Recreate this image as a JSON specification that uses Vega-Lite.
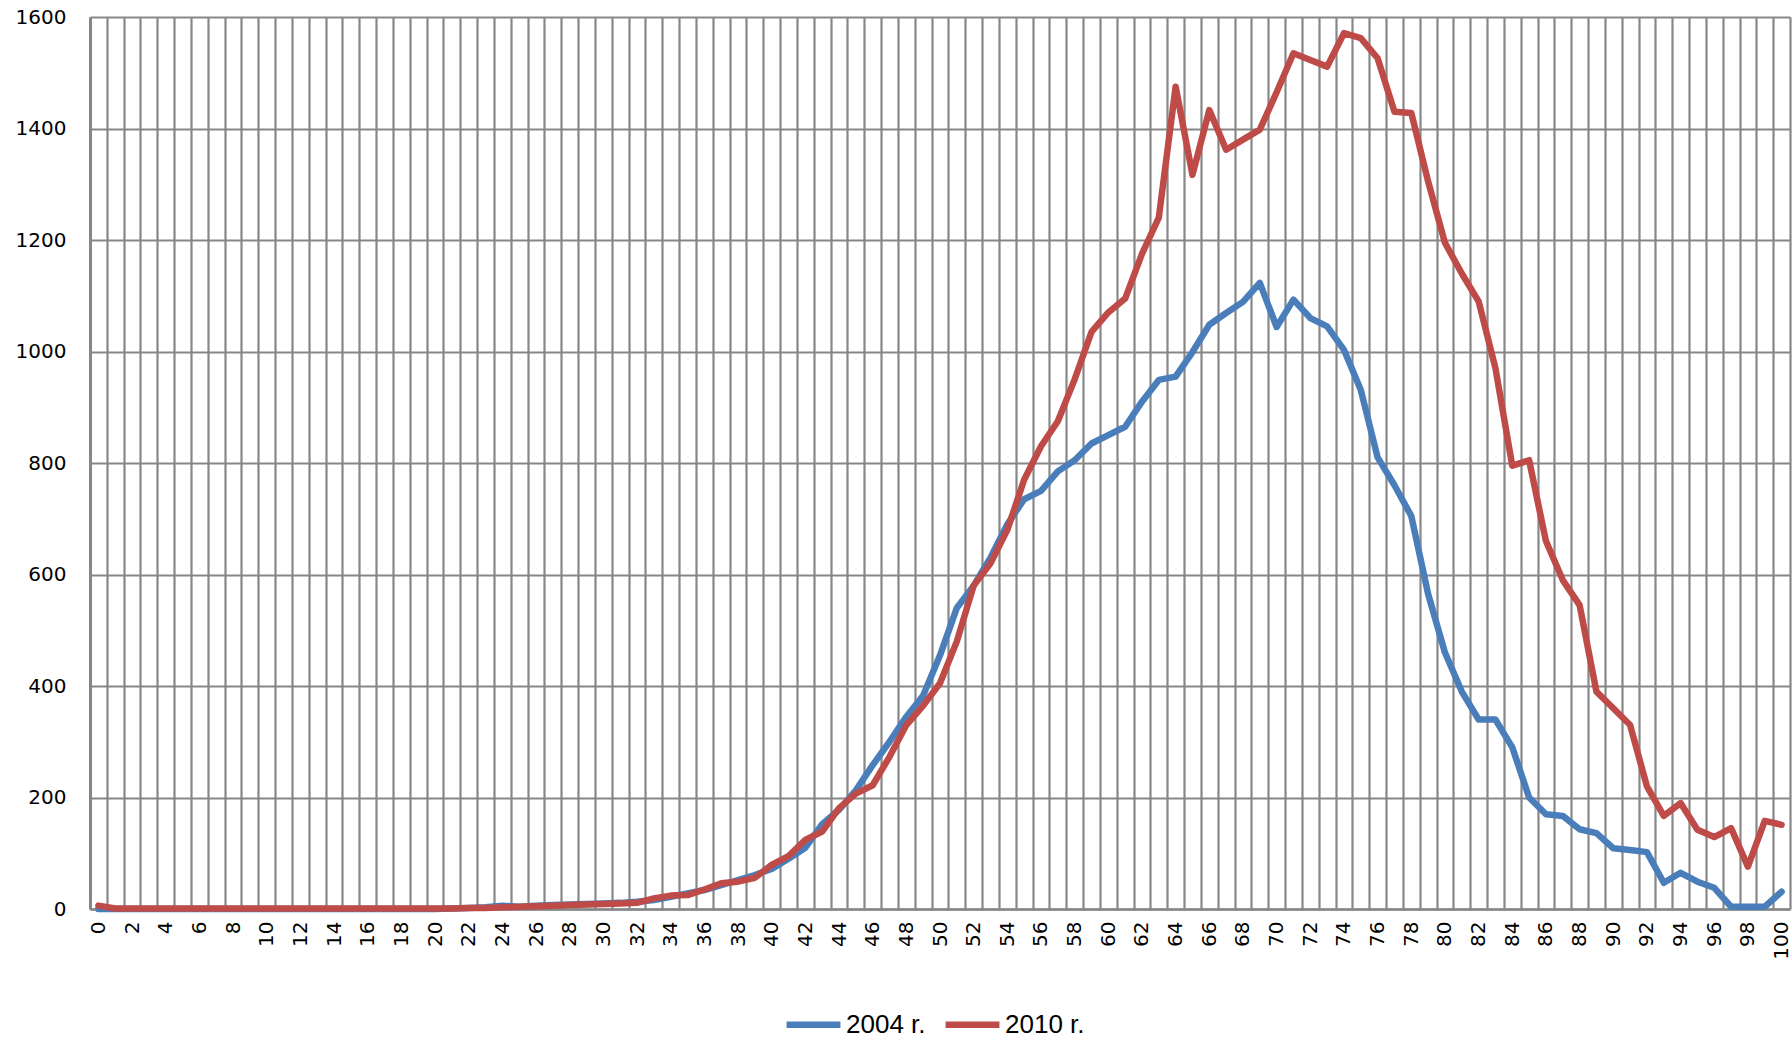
{
  "$schema": "https://vega.github.io/schema/vega-lite/v6.json",
  "width": 1700,
  "height": 892,
  "autosize": {"type": "none"},
  "padding": {"left": 90, "top": 17, "right": 2, "bottom": 131},
  "background": "white",
  "config": {"view": {"stroke": null}},
  "data": {"values": [
{"age":0,"year":"2004 r.","value":0},{"age":1,"year":"2004 r.","value":0},{"age":2,"year":"2004 r.","value":0},{"age":3,"year":"2004 r.","value":0},{"age":4,"year":"2004 r.","value":0},{"age":5,"year":"2004 r.","value":0},{"age":6,"year":"2004 r.","value":0},{"age":7,"year":"2004 r.","value":0},{"age":8,"year":"2004 r.","value":0},{"age":9,"year":"2004 r.","value":0},
{"age":10,"year":"2004 r.","value":0},{"age":11,"year":"2004 r.","value":0},{"age":12,"year":"2004 r.","value":0},{"age":13,"year":"2004 r.","value":0},{"age":14,"year":"2004 r.","value":0},{"age":15,"year":"2004 r.","value":0},{"age":16,"year":"2004 r.","value":0},{"age":17,"year":"2004 r.","value":0},{"age":18,"year":"2004 r.","value":0},{"age":19,"year":"2004 r.","value":0},
{"age":20,"year":"2004 r.","value":0},{"age":21,"year":"2004 r.","value":1},{"age":22,"year":"2004 r.","value":2},{"age":23,"year":"2004 r.","value":3},{"age":24,"year":"2004 r.","value":6},{"age":25,"year":"2004 r.","value":4},{"age":26,"year":"2004 r.","value":6},{"age":27,"year":"2004 r.","value":7},{"age":28,"year":"2004 r.","value":8},{"age":29,"year":"2004 r.","value":9},
{"age":30,"year":"2004 r.","value":10},{"age":31,"year":"2004 r.","value":11},{"age":32,"year":"2004 r.","value":13},{"age":33,"year":"2004 r.","value":16},{"age":34,"year":"2004 r.","value":22},{"age":35,"year":"2004 r.","value":28},{"age":36,"year":"2004 r.","value":34},{"age":37,"year":"2004 r.","value":43},{"age":38,"year":"2004 r.","value":52},{"age":39,"year":"2004 r.","value":61},
{"age":40,"year":"2004 r.","value":72},{"age":41,"year":"2004 r.","value":90},{"age":42,"year":"2004 r.","value":110},{"age":43,"year":"2004 r.","value":152},{"age":44,"year":"2004 r.","value":178},{"age":45,"year":"2004 r.","value":213},{"age":46,"year":"2004 r.","value":258},{"age":47,"year":"2004 r.","value":300},{"age":48,"year":"2004 r.","value":345},{"age":49,"year":"2004 r.","value":383},
{"age":50,"year":"2004 r.","value":455},{"age":51,"year":"2004 r.","value":540},{"age":52,"year":"2004 r.","value":580},{"age":53,"year":"2004 r.","value":630},{"age":54,"year":"2004 r.","value":690},{"age":55,"year":"2004 r.","value":735},{"age":56,"year":"2004 r.","value":750},{"age":57,"year":"2004 r.","value":785},{"age":58,"year":"2004 r.","value":805},{"age":59,"year":"2004 r.","value":835},
{"age":60,"year":"2004 r.","value":850},{"age":61,"year":"2004 r.","value":865},{"age":62,"year":"2004 r.","value":910},{"age":63,"year":"2004 r.","value":949},{"age":64,"year":"2004 r.","value":955},{"age":65,"year":"2004 r.","value":999},{"age":66,"year":"2004 r.","value":1048},{"age":67,"year":"2004 r.","value":1069},{"age":68,"year":"2004 r.","value":1089},{"age":69,"year":"2004 r.","value":1123},
{"age":70,"year":"2004 r.","value":1044},{"age":71,"year":"2004 r.","value":1093},{"age":72,"year":"2004 r.","value":1060},{"age":73,"year":"2004 r.","value":1045},{"age":74,"year":"2004 r.","value":1003},{"age":75,"year":"2004 r.","value":931},{"age":76,"year":"2004 r.","value":810},{"age":77,"year":"2004 r.","value":760},{"age":78,"year":"2004 r.","value":705},{"age":79,"year":"2004 r.","value":565},
{"age":80,"year":"2004 r.","value":460},{"age":81,"year":"2004 r.","value":390},{"age":82,"year":"2004 r.","value":340},{"age":83,"year":"2004 r.","value":340},{"age":84,"year":"2004 r.","value":290},{"age":85,"year":"2004 r.","value":200},{"age":86,"year":"2004 r.","value":170},{"age":87,"year":"2004 r.","value":167},{"age":88,"year":"2004 r.","value":143},{"age":89,"year":"2004 r.","value":136},
{"age":90,"year":"2004 r.","value":109},{"age":91,"year":"2004 r.","value":106},{"age":92,"year":"2004 r.","value":102},{"age":93,"year":"2004 r.","value":47},{"age":94,"year":"2004 r.","value":65},{"age":95,"year":"2004 r.","value":49},{"age":96,"year":"2004 r.","value":38},{"age":97,"year":"2004 r.","value":4},{"age":98,"year":"2004 r.","value":4},{"age":99,"year":"2004 r.","value":4},
{"age":100,"year":"2004 r.","value":31},
{"age":0,"year":"2010 r.","value":6},{"age":1,"year":"2010 r.","value":1},{"age":2,"year":"2010 r.","value":1},{"age":3,"year":"2010 r.","value":1},{"age":4,"year":"2010 r.","value":1},{"age":5,"year":"2010 r.","value":1},{"age":6,"year":"2010 r.","value":1},{"age":7,"year":"2010 r.","value":1},{"age":8,"year":"2010 r.","value":1},{"age":9,"year":"2010 r.","value":1},
{"age":10,"year":"2010 r.","value":1},{"age":11,"year":"2010 r.","value":1},{"age":12,"year":"2010 r.","value":1},{"age":13,"year":"2010 r.","value":1},{"age":14,"year":"2010 r.","value":1},{"age":15,"year":"2010 r.","value":1},{"age":16,"year":"2010 r.","value":1},{"age":17,"year":"2010 r.","value":1},{"age":18,"year":"2010 r.","value":1},{"age":19,"year":"2010 r.","value":1},
{"age":20,"year":"2010 r.","value":1},{"age":21,"year":"2010 r.","value":1},{"age":22,"year":"2010 r.","value":2},{"age":23,"year":"2010 r.","value":2},{"age":24,"year":"2010 r.","value":3},{"age":25,"year":"2010 r.","value":4},{"age":26,"year":"2010 r.","value":5},{"age":27,"year":"2010 r.","value":6},{"age":28,"year":"2010 r.","value":7},{"age":29,"year":"2010 r.","value":8},
{"age":30,"year":"2010 r.","value":9},{"age":31,"year":"2010 r.","value":10},{"age":32,"year":"2010 r.","value":11},{"age":33,"year":"2010 r.","value":19},{"age":34,"year":"2010 r.","value":24},{"age":35,"year":"2010 r.","value":25},{"age":36,"year":"2010 r.","value":35},{"age":37,"year":"2010 r.","value":46},{"age":38,"year":"2010 r.","value":49},{"age":39,"year":"2010 r.","value":56},
{"age":40,"year":"2010 r.","value":79},{"age":41,"year":"2010 r.","value":95},{"age":42,"year":"2010 r.","value":124},{"age":43,"year":"2010 r.","value":139},{"age":44,"year":"2010 r.","value":181},{"age":45,"year":"2010 r.","value":207},{"age":46,"year":"2010 r.","value":222},{"age":47,"year":"2010 r.","value":273},{"age":48,"year":"2010 r.","value":330},{"age":49,"year":"2010 r.","value":365},
{"age":50,"year":"2010 r.","value":405},{"age":51,"year":"2010 r.","value":480},{"age":52,"year":"2010 r.","value":580},{"age":53,"year":"2010 r.","value":620},{"age":54,"year":"2010 r.","value":680},{"age":55,"year":"2010 r.","value":770},{"age":56,"year":"2010 r.","value":830},{"age":57,"year":"2010 r.","value":875},{"age":58,"year":"2010 r.","value":950},{"age":59,"year":"2010 r.","value":1035},
{"age":60,"year":"2010 r.","value":1070},{"age":61,"year":"2010 r.","value":1095},{"age":62,"year":"2010 r.","value":1175},{"age":63,"year":"2010 r.","value":1240},{"age":64,"year":"2010 r.","value":1475},{"age":65,"year":"2010 r.","value":1317},{"age":66,"year":"2010 r.","value":1433},{"age":67,"year":"2010 r.","value":1362},{"age":68,"year":"2010 r.","value":1380},{"age":69,"year":"2010 r.","value":1398},
{"age":70,"year":"2010 r.","value":1465},{"age":71,"year":"2010 r.","value":1535},{"age":72,"year":"2010 r.","value":1523},{"age":73,"year":"2010 r.","value":1511},{"age":74,"year":"2010 r.","value":1571},{"age":75,"year":"2010 r.","value":1562},{"age":76,"year":"2010 r.","value":1526},{"age":77,"year":"2010 r.","value":1430},{"age":78,"year":"2010 r.","value":1428},{"age":79,"year":"2010 r.","value":1305},
{"age":80,"year":"2010 r.","value":1195},{"age":81,"year":"2010 r.","value":1140},{"age":82,"year":"2010 r.","value":1090},{"age":83,"year":"2010 r.","value":970},{"age":84,"year":"2010 r.","value":795},{"age":85,"year":"2010 r.","value":805},{"age":86,"year":"2010 r.","value":660},{"age":87,"year":"2010 r.","value":590},{"age":88,"year":"2010 r.","value":545},{"age":89,"year":"2010 r.","value":390},
{"age":90,"year":"2010 r.","value":360},{"age":91,"year":"2010 r.","value":330},{"age":92,"year":"2010 r.","value":220},{"age":93,"year":"2010 r.","value":167},{"age":94,"year":"2010 r.","value":190},{"age":95,"year":"2010 r.","value":142},{"age":96,"year":"2010 r.","value":129},{"age":97,"year":"2010 r.","value":145},{"age":98,"year":"2010 r.","value":76},{"age":99,"year":"2010 r.","value":158},
{"age":100,"year":"2010 r.","value":151}
  ]},
  "mark": {"type": "line", "strokeWidth": 6.5, "strokeJoin": "round", "strokeCap": "round"},
  "encoding": {
    "x": {
      "field": "age", "type": "ordinal",
      "scale": {"type": "band", "paddingInner": 0, "paddingOuter": 0},
      "axis": {
        "title": null,
        "tickBand": "extent",
        "grid": true, "gridColor": "#878787", "gridWidth": 2.2, "gridOpacity": 1,
        "ticks": false,
        "domain": true, "domainColor": "#878787", "domainWidth": 2.5,
        "labelAngle": 270, "labelPadding": 12, "labelOverlap": false,
        "labelFont": "DejaVu Sans", "labelFontSize": 20, "labelColor": "#000000",
        "labelExpr": "datum.value % 2 === 0 ? datum.label : ''"
      }
    },
    "y": {
      "field": "value", "type": "quantitative",
      "scale": {"domain": [0, 1600], "nice": false},
      "axis": {
        "title": null,
        "values": [0, 200, 400, 600, 800, 1000, 1200, 1400, 1600],
        "format": "d",
        "grid": true, "gridColor": "#878787", "gridWidth": 2.2, "gridOpacity": 1,
        "ticks": false,
        "domain": true, "domainColor": "#878787", "domainWidth": 3,
        "labelPadding": 24, "labelFont": "DejaVu Sans", "labelFontSize": 20, "labelColor": "#000000"
      }
    },
    "color": {
      "field": "year", "type": "nominal",
      "scale": {"domain": ["2004 r.", "2010 r."], "range": ["#4A7EBB", "#BE4B48"]},
      "legend": {
        "title": null, "orient": "none", "direction": "horizontal",
        "legendX": 693, "legendY": 977,
        "symbolType": "stroke", "symbolSize": 2900, "symbolStrokeWidth": 6.5,
        "labelFont": "Liberation Sans", "labelFontSize": 26, "labelColor": "#000000",
        "labelOffset": 2, "columnPadding": 6
      }
    }
  }
}
